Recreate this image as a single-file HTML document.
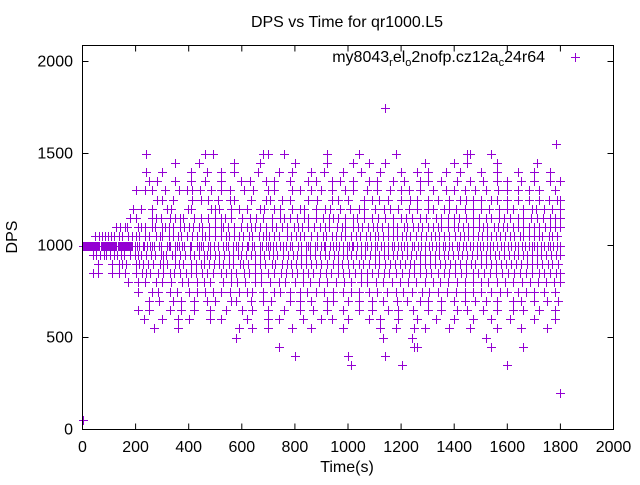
<!DOCTYPE html>
<html><head><meta charset="utf-8"><style>
body{margin:0;background:#fff}
text{font-family:"Liberation Sans",sans-serif;font-size:16px;fill:#000}
</style></head><body>
<svg id="chart" width="640" height="480" xmlns="http://www.w3.org/2000/svg">
<text x="347" y="27" text-anchor="middle">DPS vs Time for qr1000.L5</text>
<text x="17" y="237" text-anchor="middle" transform="rotate(-90 17 237)">DPS</text>
<text x="347" y="472" text-anchor="middle">Time(s)</text>
<g id="axes"></g>
<g id="points"></g>
<g>
<text x="545" y="62" text-anchor="end">my8043<tspan font-size="11" dy="4">r</tspan><tspan dy="-4">el</tspan><tspan font-size="11" dy="4">o</tspan><tspan dy="-4">2nofp.cz12a</tspan><tspan font-size="11" dy="4">c</tspan><tspan dy="-4">24r64</tspan></text>
<path d="M571 57.5h9M575.5 53v9" stroke="#9400d3" stroke-width="1"/>
</g>
<rect x="82.5" y="45.5" width="531" height="384" fill="none" stroke="#000"/>
</svg>
<script>
const xTicks=[0,200,400,600,800,1000,1200,1400,1600,1800,2000];
const yTicks=[0,500,1000,1500,2000];
const levels=[1000,1050,950,1100,900,1150,850,1200,800,1250,750,1300,700,1350,650,1400,600,1450,550,1500,500,450,400,350,1550,1750,200,50];
const times=[
[0,4,8,12,16,20,24,28,32,36,40,44,48,52,56,60,64,68,72,76,80,84,88,92,96,100,104,108,112,116,120,124,128,132,136,140,144,148,152,156,160,164,168,172,176,180,184,188,196,204,212,226,232,244,256,262,270,288,296,318,324,330,350,356,362,376,382,404,410,430,440,446,452,472,480,496,512,528,540,548,566,578,586,600,618,624,640,646,668,676,690,700,708,716,730,742,756,766,780,790,812,822,842,850,856,874,884,900,908,914,932,942,956,966,980,996,1004,1014,1020,1034,1048,1064,1072,1088,1100,1108,1126,1134,1152,1164,1172,1190,1200,1210,1222,1240,1248,1262,1276,1290,1304,1316,1330,1344,1356,1364,1382,1392,1410,1418,1432,1444,1458,1470,1484,1496,1508,1522,1536,1548,1562,1576,1586,1602,1614,1628,1640,1654,1666,1680,1692,1700,1712,1726,1740,1752,1760,1774,1788,1800],
[48,62,72,86,96,108,120,136,148,170,188,200,214,234,252,276,292,300,324,342,360,372,394,412,432,450,462,478,498,520,540,552,572,590,604,626,640,664,680,692,704,722,740,770,786,804,820,836,862,884,904,916,938,954,974,990,1010,1030,1046,1068,1084,1100,1114,1132,1150,1170,1186,1204,1220,1232,1256,1274,1292,1314,1328,1344,1362,1380,1402,1420,1436,1452,1470,1488,1506,1522,1540,1558,1572,1590,1610,1624,1646,1660,1682,1700,1718,1732,1756,1770,1786],
[40,52,66,82,90,104,118,130,146,158,178,196,210,222,240,258,272,296,304,316,336,350,368,386,404,420,438,456,468,482,500,514,532,550,566,584,598,616,634,650,668,684,702,716,734,756,774,792,808,824,842,858,876,894,912,928,946,962,980,998,1012,1030,1050,1064,1082,1100,1118,1134,1152,1170,1186,1204,1222,1238,1256,1272,1290,1308,1326,1342,1360,1378,1396,1414,1430,1448,1466,1484,1500,1518,1536,1552,1570,1588,1606,1624,1640,1658,1676,1694,1712,1728,1746,1764,1782,1800],
[128,140,160,168,210,222,236,260,274,300,310,324,342,368,384,400,418,440,450,476,500,520,530,548,572,596,620,634,648,668,690,714,730,752,770,796,812,826,850,872,896,914,930,958,976,988,1018,1036,1052,1076,1096,1110,1128,1152,1170,1186,1210,1224,1244,1262,1280,1300,1320,1338,1352,1376,1398,1414,1432,1452,1470,1492,1510,1524,1550,1564,1584,1600,1620,1640,1660,1680,1700,1720,1742,1760,1780,1800],
[60,110,136,150,164,200,212,228,246,266,292,304,320,350,362,380,408,426,448,458,478,496,514,530,552,568,592,606,624,650,670,688,712,726,750,770,786,806,822,840,860,880,900,920,944,962,978,1000,1020,1040,1058,1080,1100,1116,1140,1158,1176,1196,1216,1234,1250,1270,1290,1308,1326,1348,1366,1386,1404,1422,1444,1462,1480,1500,1520,1538,1558,1578,1596,1614,1634,1652,1676,1694,1710,1730,1752,1770,1790],
[180,200,260,276,294,330,350,366,378,420,446,472,498,520,538,560,600,632,654,680,712,744,760,782,808,836,850,878,904,928,944,962,988,1020,1034,1062,1092,1112,1140,1170,1198,1220,1242,1270,1292,1330,1352,1378,1398,1418,1446,1470,1494,1520,1540,1568,1586,1610,1640,1660,1690,1710,1736,1760,1780,1800],
[40,60,110,136,160,200,224,240,254,284,302,330,346,366,388,410,426,450,470,490,520,540,558,580,610,628,650,672,700,720,746,766,790,808,830,850,870,896,918,936,962,980,1002,1026,1048,1070,1090,1114,1136,1156,1180,1202,1228,1250,1270,1294,1314,1338,1360,1380,1402,1426,1446,1470,1490,1514,1534,1558,1580,1602,1626,1648,1670,1694,1718,1738,1760,1782,1800],
[190,220,260,320,334,396,410,484,500,516,560,590,620,668,684,720,742,790,820,834,880,912,934,970,1008,1040,1062,1100,1134,1160,1190,1228,1260,1300,1320,1360,1380,1406,1440,1470,1500,1530,1568,1600,1620,1660,1692,1708,1740,1770,1800],
[170,210,236,276,300,334,376,398,432,456,482,530,560,582,612,648,674,706,740,764,800,832,858,890,922,956,984,1012,1048,1072,1104,1132,1164,1194,1226,1256,1290,1320,1346,1378,1410,1440,1470,1500,1528,1562,1592,1620,1654,1684,1714,1744,1776,1800],
[280,300,340,414,446,472,512,556,572,634,690,706,750,780,850,882,940,964,1000,1060,1090,1116,1150,1200,1234,1260,1300,1340,1380,1420,1446,1470,1500,1540,1560,1600,1640,1680,1720,1756,1786,1800],
[210,260,286,330,356,400,432,460,490,520,554,588,620,640,680,720,742,780,820,846,880,910,944,980,1010,1040,1080,1110,1146,1180,1206,1240,1280,1304,1340,1374,1406,1440,1470,1500,1540,1572,1600,1640,1670,1700,1740,1780],
[200,234,260,310,364,392,412,444,484,520,556,610,644,700,720,790,820,860,900,940,990,1018,1070,1110,1160,1200,1230,1270,1320,1370,1400,1440,1480,1520,1566,1600,1640,1680,1720,1780],
[250,290,340,370,420,470,500,560,580,636,680,710,780,820,860,920,944,1000,1040,1090,1130,1184,1222,1270,1300,1350,1400,1440,1480,1520,1560,1620,1650,1700,1750,1790],
[250,280,350,410,460,520,596,630,690,720,780,850,880,940,970,1020,1080,1110,1170,1210,1270,1300,1350,1410,1460,1510,1560,1600,1650,1700,1760,1800],
[210,250,330,370,420,480,540,600,640,700,760,820,870,920,980,1040,1090,1150,1190,1246,1300,1350,1410,1450,1510,1560,1620,1660,1720,1780],
[240,300,410,470,520,570,660,740,790,860,910,980,1050,1120,1200,1260,1300,1370,1420,1500,1560,1640,1700,1760],
[230,300,360,400,480,520,620,700,740,830,900,940,1000,1080,1120,1190,1260,1330,1400,1470,1540,1610,1700,1780],
[350,440,570,670,800,920,1020,1080,1140,1290,1400,1450,1560,1710],
[270,360,590,640,700,790,860,980,1120,1180,1250,1290,1380,1460,1560,1650,1750],
[240,460,490,680,700,760,920,1040,1180,1450,1460,1540],
[580,1130,1240,1520],
[740,1250,1260,1540,1660],
[800,1000,1140],
[1010,1205,1600],
[1785],[1140],[1797],[0]
];
const X0=82.5,X1=613.5,Y0=429.5,Y1=45.5;
function sx(t){return X0+t*(X1-X0)/2000;}
function sy(v){return Y0-v*(Y0-Y1)/2087;}
const NS="http://www.w3.org/2000/svg";
const ax=document.getElementById('axes');
let d='';
xTicks.forEach(t=>{
  const x=sx(t);d+=`M${x} ${Y0}v-6M${x} ${Y1}v6`;
  const tx=document.createElementNS(NS,'text');
  tx.setAttribute('x',x);tx.setAttribute('y',452);tx.setAttribute('text-anchor','middle');tx.textContent=t;
  
  
  ax.appendChild(tx);
});
yTicks.forEach(v=>{
  const y=sy(v);d+=`M${X0} ${y}h6M${X1} ${y}h-6`;
  const tx=document.createElementNS(NS,'text');
  tx.setAttribute('x',73);tx.setAttribute('y',y+5);tx.setAttribute('text-anchor','end');tx.textContent=v;
  
  
  ax.appendChild(tx);
});
const tp=document.createElementNS(NS,'path');
tp.setAttribute('d',d);tp.setAttribute('stroke','#000');


ax.appendChild(tp);
let pd='';
levels.forEach((v,i)=>{
  const y=Math.round(sy(v))+0.5;
  times[i].forEach(t=>{const x=Math.round(sx(t))+0.5;pd+=`M${x-4.5} ${y}h9M${x} ${y-4.5}v9`;});
});
const pp=document.createElementNS(NS,'path');
pp.setAttribute('d',pd);pp.setAttribute('stroke','#9400d3');pp.setAttribute('fill','none');


document.getElementById('points').appendChild(pp);
</script>
</body></html>
